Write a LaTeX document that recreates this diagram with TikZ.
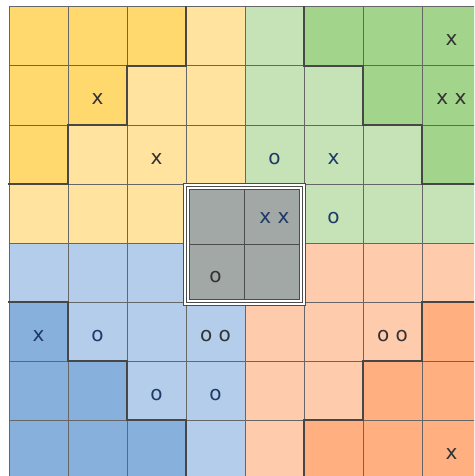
\documentclass[tikz,border=0pt]{standalone}
\usepackage{fontspec}
\setmainfont{DejaVu Sans}
\usetikzlibrary{positioning}
\definecolor{yelL}{HTML}{FFE39E}
\definecolor{yelD}{HTML}{FFD96E}
\definecolor{grnL}{HTML}{C5E3B6}
\definecolor{grnD}{HTML}{A3D48B}
\definecolor{bluL}{HTML}{B3CDEA}
\definecolor{bluD}{HTML}{87B1DC}
\definecolor{orgL}{HTML}{FFCBAD}
\definecolor{orgD}{HTML}{FFAF80}
\definecolor{midGray}{HTML}{A1A8A5}
\definecolor{lineGray}{HTML}{666666}
\definecolor{inkDark}{HTML}{333333}
\definecolor{inkNavy}{HTML}{1F3A68}

\begin{document}
\begin{tikzpicture}[x=1pt, y=-1pt,
  gridln/.style={draw=lineGray, line width=1pt},
  stair/.style={draw=black!72, line width=2.2pt, line cap=rect},
  frameln/.style={draw=black!70, line width=1pt},
  cellTxt/.style={anchor=base, inner sep=0pt, font=\fontsize{20}{20}\selectfont}]
  \useasboundingbox (0,0) rectangle (474,476);
  \clip (0,0) rectangle (474,476);
  % four quadrants, light tone first
  \fill[yelL] (9,7) rectangle (245,243);
  \fill[grnL] (245,7) rectangle (481,243);
  \fill[bluL] (9,243) rectangle (245,479);
  \fill[orgL] (245,243) rectangle (481,479);
  % darker corner cells
  \foreach \c/\r/\col in {0/0/yelD,1/0/yelD,2/0/yelD,0/1/yelD,1/1/yelD,0/2/yelD,
      5/0/grnD,6/0/grnD,7/0/grnD,6/1/grnD,7/1/grnD,7/2/grnD,
      0/5/bluD,0/6/bluD,1/6/bluD,0/7/bluD,1/7/bluD,2/7/bluD,
      7/5/orgD,6/6/orgD,7/6/orgD,5/7/orgD,6/7/orgD,7/7/orgD}
    \fill[\col] ({9+59*\c},{7+59*\r}) rectangle +(59,59);
  % grid
  \foreach \i in {0,...,8} {
    \draw[gridln] ({9+59*\i},7) -- ({9+59*\i},479);
    \draw[gridln] (9,{7+59*\i}) -- (481,{7+59*\i});
  }
  % staircase borders
  \draw[stair] (186,7) |- (127,66) |- (68,125) |- (9,184);
  \draw[stair] (304,7) |- (363,66) |- (422,125) |- (481,184);
  \draw[stair] (9,302) -| (68,361) -| (127,420) -| (186,479);
  \draw[stair] (481,302) -| (422,361) -| (363,420) -| (304,479);
  % centre block
  \draw[frameln, fill=white] (183.5,183.5) rectangle (305.5,305.5);
  \draw[frameln] (186.5,186.5) rectangle (302.5,302.5);
  \draw[frameln, fill=midGray] (189.5,189.5) rectangle (299.5,299.5);
  \draw[frameln] (244.5,189.5) -- (244.5,299.5);
  \draw[frameln] (189.5,244) -- (299.5,244);
  % labels
  \foreach \c/\r/\txt/\tc in {7/0/x/inkDark, 1/1/x/inkDark, 7/1/{x x}/inkDark,
      2/2/x/inkDark, 4/2/o/inkNavy, 5/2/x/inkNavy, 4/3/{x x}/inkNavy,
      5/3/o/inkNavy, 3/4/o/inkDark, 0/5/x/inkNavy, 1/5/o/inkNavy,
      3/5/{o o}/inkDark, 6/5/{o o}/inkDark, 2/6/o/inkNavy, 3/6/o/inkNavy,
      7/7/x/inkDark}
    \node[cellTxt, text=\tc] (lab\c\r) at ({38.5+59*\c},{46+59*\r}) {\txt};
\end{tikzpicture}
\end{document}
